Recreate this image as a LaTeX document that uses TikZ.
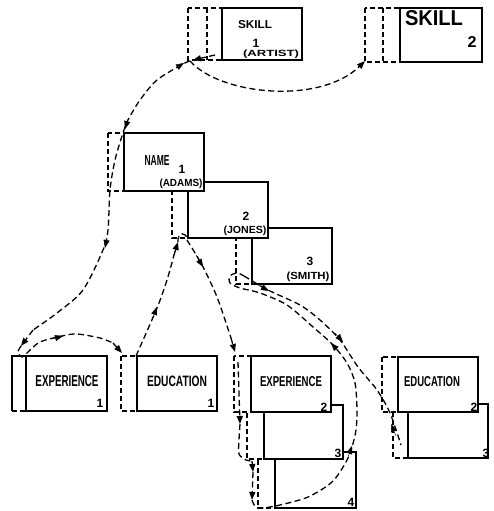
\documentclass[tikz,border=0pt]{standalone}
\usepackage{fontspec}
\usepackage{graphicx}
\usetikzlibrary{arrows.meta}
\newfontfamily\lbl{Liberation Sans}
\newcommand\fitw[3]{\resizebox{#1pt}{#2pt}{\lbl\bfseries #3}}
\newcommand\dig[1]{{\lbl\bfseries\fontsize{12}{12}\selectfont #1}}
\newcommand\recd[5]{\draw[dsh,fill=white] (#1,#3) rectangle (#2,#5); \draw[boxst] (#2,#3) rectangle (#4,#5);}
\newcommand\ahead[2]{\draw[ahst] #1 -- #2;}
\tikzset{
 boxst/.style={draw, line width=1.2pt, fill=white},
 dsh/.style={line width=1.2pt, dash pattern=on 5pt off 3pt},
 link/.style={line width=1.3pt, dash pattern=on 6pt off 3.5pt},
 tip/.style={-{Triangle[length=8pt,width=6pt]}},
 ahst/.style={line width=0.4pt, -{Triangle[length=8pt,width=6pt]}},
 txt/.style={inner sep=0pt, outer sep=0pt}
}
\begin{document}
\begin{tikzpicture}[x=1pt,y=-1pt]
\fill[white] (0,0) rectangle (493,511);
\useasboundingbox (0,0) rectangle (493,511);

% SKILL 1
\draw[dsh,fill=white] (188,8) rectangle (222,60);
\draw[dsh] (207,8) -- (207,60);
\draw[boxst] (222,8) rectangle (302,60);
% SKILL 2
\draw[dsh,fill=white] (365,8) rectangle (400,62);
\draw[dsh] (383,8) -- (383,62);
\draw[boxst] (400,8) rectangle (482,62);

% name chain (back to front)
\recd{236}{252}{228}{332}{284}
\recd{172}{188}{182}{268}{238}
\recd{108}{124}{133}{204}{191}

% experience chain
\recd{258}{275}{452}{356}{508}
\recd{247}{264}{405}{343}{459}
\recd{234}{251}{356}{331}{412}

% education chain
\recd{393}{408}{404}{488}{458}
\recd{382}{398}{357}{478}{412}

% experience 1
\fill[white] (12,356) rectangle (26,411);
\draw[line width=1.2pt] (12,411) -- (12,356) -- (26,356);
\draw[dsh] (12,411) -- (26,411);
\draw[boxst] (26,356) rectangle (107,411);
% education 1
\recd{121}{137}{356}{217}{411}

% texts
\node[txt] (tsk1) at (255,25) {\fitw{34}{8}{SKILL}};
\node[txt] (tsk1n) at (256,43) {\dig{1}};
\node[txt] (tsk1a) at (271,54.5) {\fitw{56}{6.5}{(ARTIST)}};
\node[txt] (tsk2) at (434,18) {\fitw{58}{15}{SKILL}};
\node[txt] (tsk2n) at (472,42) {\fitw{9}{11}{2}};
\node[txt] (tnm) at (157,160) {\fitw{25}{10}{NAME}};
\node[txt] (tnm1) at (182,169) {\dig{1}};
\node[txt] (tad) at (181,183.5) {\fitw{43}{7.5}{(ADAMS)}};
\node[txt] (tjo2) at (246,216.5) {\dig{2}};
\node[txt] (tjo) at (245,230.5) {\fitw{43}{7.5}{(JONES)}};
\node[txt] (tsm3) at (310,261.5) {\dig{3}};
\node[txt] (tsm) at (308,276.5) {\fitw{43}{7.5}{(SMITH)}};
\node[txt] (tex1) at (67,381) {\fitw{63}{11}{EXPERIENCE}};
\node[txt] (tex1n) at (100,403) {\dig{1}};
\node[txt] (ted1) at (177,381) {\fitw{60}{10.5}{EDUCATION}};
\node[txt] (ted1n) at (211,403) {\dig{1}};
\node[txt] (tex2) at (291,382) {\fitw{62}{10}{EXPERIENCE}};
\node[txt] (tex2n) at (324,407) {\dig{2}};
\node[txt] (tex3n) at (338,453) {\dig{3}};
\node[txt] (tex4n) at (351,502) {\dig{4}};
\node[txt] (ted2) at (432,382) {\fitw{56}{10}{EDUCATION}};
\node[txt] (ted2n) at (474,407) {\dig{2}};
\node[txt] (ted3n) at (486,453) {\dig{3}};

% connector coordinates
\coordinate (s1) at (190,61);
\coordinate (s1in) at (215,55);
\coordinate (s1b) at (193,60);
\coordinate (sk2) at (365,61);
\coordinate (nm) at (123,133);
\coordinate (e1) at (21,346);
\coordinate (ed1) at (122,353);
\coordinate (ed1t) at (136,356);
\coordinate (ad) at (178,242);
\coordinate (ad2) at (187,240);
\coordinate (ex2) at (235,352);
\coordinate (ex2b) at (238,362);
\coordinate (b3) at (240,424);
\coordinate (b3b) at (253,472);
\coordinate (b4) at (252,500);
\coordinate (sm) at (244,276);
\coordinate (ed3) at (401,445);

% connectors
\draw[link,tip] (s1) .. controls (220,95) and (320,105) .. (sk2);
\draw[link,tip] (s1in) -- (s1b);
\draw[link] plot[smooth] coordinates {(s1) (183,64) (157,80) (140,100) (128,120) (nm) (115,160) (110,190) (108,230) (103,250) (83,290) (57,313) (33,330)};
\draw[link,tip] (33,330) -- (e1);
\draw[link] plot[smooth] coordinates {(e1) (18,352) (22,357) (28,352) (40,342) (62,336) (77,334) (100,338) (113,343)};
\draw[link,tip] (113,343) -- (ed1);
\draw[link] plot[smooth] coordinates {(ed1t) (157,308) (167,280) (174,255)};
\draw[link,tip] (174,255) -- (ad);
\draw[link] (ad) .. controls (177,232) and (187,231) .. (ad2);
\draw[link] plot[smooth] coordinates {(ad2) (202,265) (217,297) (231,338)};
\draw[link,tip] (231,338) -- (ex2);
\draw[link,tip] (ex2b) -- (b3);
\draw[link] plot[smooth] coordinates {(b3) (239,440) (239,454) (246,460) (252,461)};
\draw[link,tip] (252,461) -- (b3b);
\draw[link,tip] (b3b) -- (b4);
\draw[link] plot[smooth] coordinates {(b4) (255,506) (262,508) (280,505) (308,497) (332,482) (346,462) (352,447) (356,430) (357,410) (355,383) (347,363) (332,344) (313,327) (287,305) (260,293) (240,288) (230,283) (230,276) (237,273) (sm)};
\draw[link] plot[smooth] coordinates {(sm) (268,290) (300,305) (320,320) (340,340) (358,367) (377,390) (390,413) (ed3)};

% arrowheads along the connectors
\ahead{(176,68)}{(184,63)}
\ahead{(128,119)}{(125,129)}
\ahead{(107,238)}{(105,248)}
\ahead{(52,339)}{(63,336)}
\ahead{(152,320)}{(157,307)}
\ahead{(196,255)}{(203,267)}
\ahead{(348,457)}{(352,446)}
\ahead{(340,353)}{(331,343)}
\ahead{(258,285)}{(269,291)}
\ahead{(335,333)}{(343,342)}
\ahead{(396,436)}{(391,424)}
\end{tikzpicture}
\end{document}
